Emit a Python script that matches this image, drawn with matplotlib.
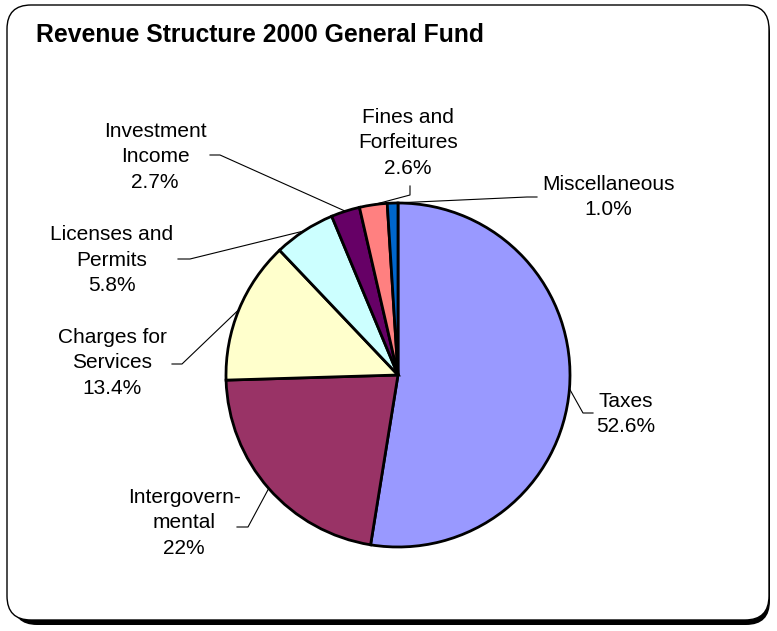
import numpy as np
import matplotlib
matplotlib.use("Agg")
import matplotlib.pyplot as plt
from matplotlib.patches import FancyBboxPatch

plt.rcParams['font.family'] = ['Liberation Sans', 'DejaVu Sans']

categories = ["Taxes", "Intergovernmental", "Charges for Services",
              "Licenses and Permits", "Investment Income",
              "Fines and Forfeitures", "Miscellaneous"]
shares = [52.6, 22.0, 13.4, 5.8, 2.7, 2.6, 1.0]
label_text = ["Taxes\n52.6%", "Intergovern-\nmental\n22%",
              "Charges for\nServices\n13.4%", "Licenses and\nPermits\n5.8%",
              "Investment\nIncome\n2.7%", "Fines and\nForfeitures\n2.6%",
              "Miscellaneous\n1.0%"]
colors = ["#9999FF", "#993366", "#FFFFCC", "#CCFFFF",
          "#660066", "#FF8080", "#0066CC"]

W, H = 777, 631
CX, CY, R = 398, 375, 172

# label block centre, leader elbow, leader end (pixel coords, y down)
label_pos = [(626, 414), (184, 523), (112, 363), (112, 260),
             (155, 157), (408, 143), (608, 197)]
elbows = [(583, 413), (248, 527), (182, 364), (190, 259),
          (220, 155), (410, 195), (527, 197)]
ends = [(593, 413), (237, 527), (172, 364), (178, 259),
        (210, 155), (410, 186), (537, 197)]


def Y(y):
    return H - y


fig = plt.figure(figsize=(W / 100, H / 100), dpi=100)
ax = fig.add_axes([0, 0, 1, 1])
ax.set_xlim(0, W)
ax.set_ylim(0, H)
ax.axis("off")

# card with drop shadow
shadow = FancyBboxPatch((13, Y(625)), 757, 615,
                        boxstyle="round,pad=0,rounding_size=24",
                        fc="black", ec="black", lw=0, zorder=0)
card = FancyBboxPatch((7, Y(620)), 762, 615,
                      boxstyle="round,pad=0,rounding_size=24",
                      fc="white", ec="black", lw=1.0, zorder=1)
ax.add_patch(shadow)
ax.add_patch(card)

ax.text(36, Y(35), "Revenue Structure 2000 General Fund", fontsize=17.8,
        fontweight="bold", ha="left", va="center", zorder=5)

wedges, _ = ax.pie(shares, colors=colors, startangle=90, counterclock=False,
                   center=(CX, Y(CY)), radius=R,
                   wedgeprops=dict(edgecolor="black", linewidth=2))
for w in wedges:
    w.set_zorder(3)
ax.set_xlim(0, W)
ax.set_ylim(0, H)
ax.set_aspect("equal")

for w, txt, pos, el, en in zip(wedges, label_text, label_pos, elbows, ends):
    mid = np.deg2rad((w.theta1 + w.theta2) / 2)
    sx = CX + R * np.cos(mid)
    sy = Y(CY) + R * np.sin(mid)
    ax.plot([sx, el[0], en[0]], [sy, Y(el[1]), Y(en[1])],
            color="black", lw=0.8, zorder=2)
    ax.text(pos[0], Y(pos[1]), txt, fontsize=15, ha="center", va="center",
            linespacing=1.45, zorder=5)

fig.savefig("out.png", dpi=100)
